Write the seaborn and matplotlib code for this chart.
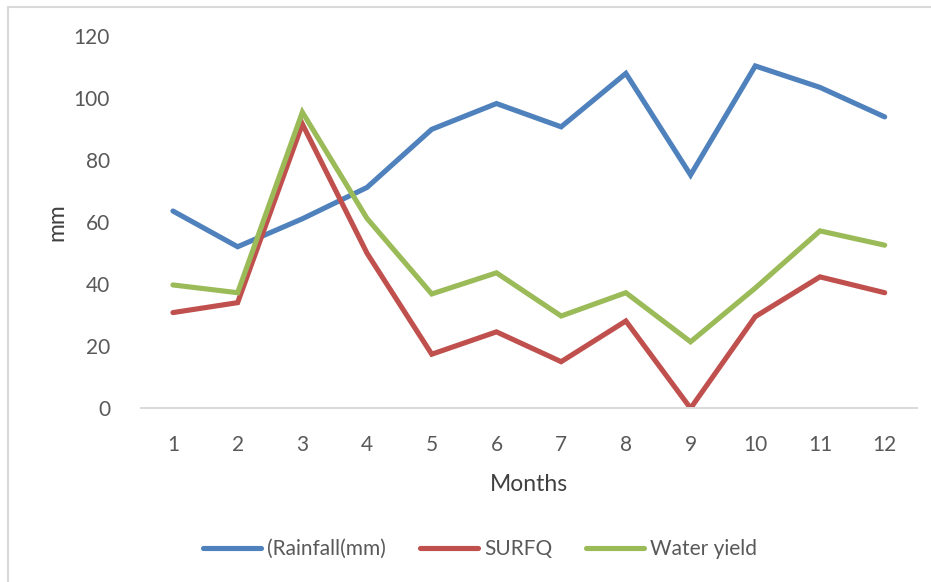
import numpy as np
import pandas as pd
import seaborn as sns
import matplotlib

matplotlib.use("Agg")
import matplotlib.pyplot as plt
from matplotlib.patches import Rectangle

months = list(range(1, 13))
rainfall = [63.5, 52.0, 61.0, 71.1, 89.8, 98.1, 90.6, 107.8, 75.1, 110.2, 103.3, 93.8]
surfq = [30.8, 34.0, 91.5, 49.9, 17.4, 24.6, 15.0, 28.1, 0.0, 29.5, 42.3, 37.2]
water_yield = [39.7, 37.2, 95.3, 61.1, 36.8, 43.6, 29.7, 37.2, 21.4, 38.7, 57.1, 52.5]
series_names = ["(Rainfall(mm)", "SURFQ", "Water yield"]
colors = ["#4F81BD", "#C0504D", "#9BBB59"]

df = pd.DataFrame({
    "month": months * 3,
    "value": rainfall + surfq + water_yield,
    "series": [series_names[0]] * 12 + [series_names[1]] * 12 + [series_names[2]] * 12,
})

sns.set_style("white")
plt.rcParams["font.family"] = ["Lato", "DejaVu Sans"]
text_col = "#595959"

fig = plt.figure(figsize=(9.31, 5.82), dpi=100)
ax = fig.add_axes([0.151, 0.2985, 0.834, 0.6405])

sns.lineplot(data=df, x="month", y="value", hue="series", palette=colors,
             linewidth=3.7, ax=ax, legend=False)
for ln in ax.lines:
    ln.set_solid_capstyle("round")
    ln.set_solid_joinstyle("miter")

ax.set_xlim(0.5, 12.5)
ax.set_ylim(0, 120)
ax.set_xticks(months)
ax.set_yticks(range(0, 121, 20))
ax.tick_params(axis="both", length=0, labelsize=15, labelcolor=text_col)
ax.tick_params(axis="y", pad=22)
ax.tick_params(axis="x", pad=19)
for s in ["top", "right", "left"]:
    ax.spines[s].set_visible(False)
ax.spines["bottom"].set_color("#D9D9D9")
ax.spines["bottom"].set_linewidth(1.4)
ax.set_xlabel("Months", fontsize=16.5, color="#404040")
ax.set_ylabel("mm", fontsize=16.5, color="#404040")
ax.xaxis.set_label_coords(0.5, -0.175)
ax.yaxis.set_label_coords(-0.094, 0.5)

handles = [plt.Line2D([], [], color=c, lw=3.7, solid_capstyle="round") for c in colors]
fig.legend(handles, series_names, loc="center", bbox_to_anchor=(480 / 931, 1 - 549 / 582),
           ncol=3, frameon=False, fontsize=15, labelcolor=text_col,
           handlelength=2.8, handletextpad=0.3, columnspacing=1.6)

fig.patches.append(Rectangle((8 / 931, -0.1), 1.2, 1 - 7 / 582 + 0.1, transform=fig.transFigure,
                             fill=False, edgecolor="#D9D9D9", lw=1.5))

fig.savefig("out.png", dpi=100)
